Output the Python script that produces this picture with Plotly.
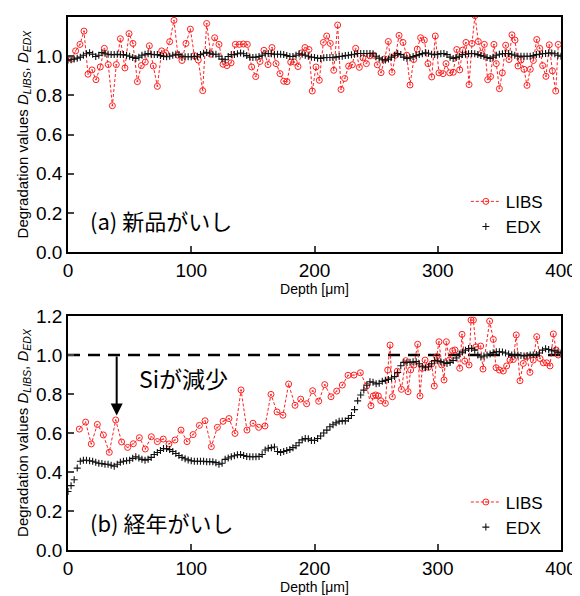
import plotly.graph_objects as go
from plotly.subplots import make_subplots

# ---------------- data ----------------
# (a) new insulator - LIBS
libs_a_depth = [2.9, 6.2, 9.7, 13.0, 16.2, 19.5, 22.7, 26.2, 29.5, 32.7, 36.0, 39.2, 42.5, 46.2, 49.5,
                52.7, 56.3, 59.5, 62.7, 66.0, 69.2, 72.5, 76.0, 79.2, 82.5, 86.0, 89.2, 92.5, 95.7,
                99.3, 102.5, 105.7, 109.3, 112.5, 115.8, 119.0, 122.5, 125.8, 129.0, 132.3, 135.8,
                139.0, 142.3, 145.5, 149.0, 152.3, 155.8, 159.0, 162.3, 165.5, 168.8, 172.0, 175.0,
                177.7, 180.7, 183.6, 186.6, 189.6, 192.3, 195.5, 198.2, 201.2, 203.9,
                207.2, 209.9, 212.8, 215.6, 218.8, 221.5, 224.5, 227.7, 230.7, 233.4, 236.4, 239.4,
                242.1, 245.0, 248.0, 251.0, 254.0, 256.9, 259.9, 262.9, 265.9, 268.6, 271.8, 274.8,
                277.5, 280.5, 283.4, 286.1, 289.1, 292.1, 295.1, 298.0, 301.0, 304.3, 306.7, 309.7,
                312.6, 315.4, 317.8, 320.2, 322.9, 325.4, 327.8, 330.2, 332.9, 335.4, 337.8, 340.5,
                342.9, 345.6, 347.5, 350.0, 352.4, 355.1, 357.8, 360.2, 362.7, 365.1, 367.5, 370.0,
                372.4, 375.1, 377.6, 380.3, 382.7, 385.1, 387.8, 390.5, 393.0, 395.7, 397.8]
libs_a = [0.985, 1.027, 1.06, 1.128, 0.908, 0.93, 0.88, 0.945, 1.04, 0.957, 0.747, 0.957, 1.089, 0.94,
          1.115, 1.065, 0.87, 0.952, 0.97, 1.053, 0.95, 0.846, 1.027, 1.017, 1.074, 1.183, 1.005,
          0.978, 1.065, 1.138, 1.003, 0.98, 0.824, 1.167, 1.01, 1.094, 1.06, 0.959, 0.952, 0.966,
          1.06, 1.06, 1.062, 1.06, 0.945, 0.896, 0.973, 1.03, 0.957, 1.044, 0.962, 0.911, 0.872,
          0.87, 0.97, 0.97, 0.947, 1.017, 1.044, 1.034, 0.822, 0.945, 0.877,
          1.07, 1.103, 1.065, 0.928, 1.159, 0.83, 0.886, 0.949, 0.956, 1.04, 0.943, 0.991, 0.962,
          1.002, 1.005, 0.956, 0.916, 0.986, 1.075, 0.918, 1.005, 1.106, 1.07, 1.005, 0.853,
          0.983, 1.036, 1.094, 1.082, 0.962, 0.894, 1.103, 0.915, 0.911, 0.962, 0.915, 0.918,
          1.034, 0.93, 1.031, 1.07, 0.855, 1.065, 1.207, 1.075, 1.014, 1.06, 0.88, 0.896, 1.06,
          0.962, 0.834, 0.915, 1.056, 0.983, 1.109, 1.082, 0.95, 0.98, 0.933, 0.851, 0.933,
          0.978, 1.085, 1.04, 0.952, 0.897, 1.058, 0.925, 0.822, 1.06]

# (a) new insulator - EDX (2.5 um grid, 0..400)
edx_a = [0.98, 0.982, 0.985, 0.99, 0.995, 1.005, 1.012, 1.018, 1.01, 0.998,
         1.005, 1.018, 1.015, 1.01, 1.008, 1.008, 1.01, 1.008, 1.008, 1.005,
         1.0, 0.993, 0.988, 0.995, 1.005, 1.01, 1.013, 1.01, 1.008, 1.008,
         1.003, 0.998, 0.997, 1.0, 1.005, 1.01, 1.008, 1.0, 0.997, 0.997,
         0.997, 0.998, 1.0, 1.008, 1.015, 1.019, 1.015, 1.01, 1.01, 1.0,
         0.985, 0.982, 0.998, 1.008, 1.008, 1.012, 1.016, 1.012, 1.003, 0.995,
         0.993, 0.995, 0.998, 1.005, 1.012, 1.014, 1.012, 1.01, 1.01, 1.01,
         1.008, 1.003, 0.998, 0.998, 1.005, 1.012, 1.01, 1.005, 1.0, 0.995,
         0.993, 0.99, 0.988, 0.992, 0.993, 0.993, 0.993, 0.995, 0.998, 1.0,
         1.003, 1.005, 1.007, 1.01, 1.014, 1.014, 1.014, 1.014, 1.014, 1.012,
         1.0, 0.99, 0.982, 0.98, 0.985, 0.995, 1.005, 1.014, 1.008, 0.995,
         0.988, 0.992, 0.998, 1.003, 1.008, 1.013, 1.017, 1.015, 1.01, 1.008,
         1.01, 1.013, 1.014, 1.008, 0.995, 0.988, 0.993, 1.0, 1.008, 1.01,
         1.012, 1.014, 1.012, 1.008, 1.003, 1.0, 0.993, 0.988, 0.995, 1.005,
         1.01, 1.012, 1.014, 1.014, 1.01, 1.005, 1.0, 1.0, 1.0, 1.0,
         1.0, 1.003, 1.008, 1.01, 1.012, 1.014, 1.016, 1.016, 1.012, 1.005,
         1.0]

# (b) aged insulator - LIBS
libs_b_depth = [9.2, 14.3, 18.9, 23.8, 28.7, 33.5, 38.7, 43.5, 48.4, 53.0, 57.9, 62.7, 67.6, 72.5,
                77.3, 81.9, 86.8, 91.7, 96.6, 101.5, 106.6, 111.2, 116.3, 121.2, 125.8, 130.6,
                135.5, 140.4, 145.2, 150.1, 154.7, 159.8, 164.7, 169.6, 174.4, 179.0, 184.2,
                188.8, 193.6, 198.5, 203.4, 208.3, 213.4, 218.0, 222.6, 227.2, 232.0, 237.2,
                242.3, 245.8, 247.7, 249.6, 251.8, 253.7, 257.5, 259.4, 261.3, 263.2, 267.2,
                270.5, 274.0, 275.9, 278.0, 280.7, 283.7, 285.6, 287.5, 289.7, 292.4, 295.1,
                297.2, 299.1, 301.0, 303.2, 305.1, 307.0, 309.4, 312.1, 314.0, 317.8, 319.7,
                321.9, 325.4, 327.0, 328.9, 331.0, 334.8, 336.7, 342.1, 345.1, 347.3, 350.0,
                353.2, 355.9, 358.6, 361.3, 363.7, 366.7, 369.4, 372.1, 374.8, 377.5, 380.3,
                383.0, 385.7, 388.4, 391.1, 393.8, 396.0, 397.8]
libs_b = [0.62, 0.656, 0.544, 0.644, 0.59, 0.501, 0.667, 0.554, 0.526, 0.545, 0.576, 0.518, 0.581,
          0.556, 0.569, 0.544, 0.564, 0.615, 0.556, 0.592, 0.639, 0.663, 0.53, 0.629, 0.66,
          0.674, 0.598, 0.821, 0.615, 0.65, 0.629, 0.636, 0.798, 0.708, 0.691, 0.851, 0.742,
          0.774, 0.75, 0.817, 0.763, 0.848, 0.786, 0.815, 0.846, 0.896, 0.897, 0.909, 0.841,
          0.74, 0.79, 0.795, 0.79, 0.766, 0.752, 0.923, 1.051, 0.786, 0.917, 0.824, 0.971,
          0.812, 0.923, 0.949, 1.055, 0.79, 0.932, 0.974, 0.937, 0.954, 0.841, 0.991, 1.068,
          0.949, 0.872, 1.068, 0.974, 1.022, 1.026, 0.932, 1.106, 0.969, 0.949, 1.179, 1.179,
          1.042, 1.046, 0.928, 1.174, 1.08, 0.935, 0.923, 0.918, 0.944, 0.974, 0.977, 1.103,
          0.868, 0.957, 0.991, 0.911, 0.974, 1.094, 0.982, 0.96, 0.96, 0.944, 1.108, 1.026, 1.0]

# (b) aged insulator - EDX (2.5 um grid, 0..400)
edx_b = [0.30, 0.33, 0.36, 0.42, 0.455, 0.46, 0.46, 0.458, 0.455, 0.45,
         0.445, 0.443, 0.44, 0.44, 0.435, 0.43, 0.44, 0.45, 0.455, 0.458,
         0.46, 0.47, 0.478, 0.472, 0.465, 0.46, 0.465, 0.475, 0.49, 0.5,
         0.51, 0.52, 0.52, 0.515, 0.505, 0.495, 0.485, 0.475, 0.468, 0.462,
         0.458, 0.455, 0.455, 0.455, 0.455, 0.453, 0.453, 0.452, 0.448, 0.44,
         0.445, 0.465, 0.472, 0.478, 0.483, 0.488, 0.49, 0.485, 0.48, 0.478,
         0.478, 0.478, 0.48, 0.49, 0.513, 0.522, 0.525, 0.528, 0.505, 0.5,
         0.505, 0.51, 0.515, 0.525, 0.535, 0.55, 0.565, 0.572, 0.57, 0.562,
         0.562, 0.572, 0.585, 0.6, 0.615, 0.632, 0.642, 0.652, 0.66, 0.662,
         0.662, 0.675, 0.69, 0.72, 0.765, 0.795, 0.82, 0.845, 0.863, 0.86,
         0.852, 0.855, 0.865, 0.87, 0.875, 0.882, 0.89, 0.91, 0.945, 0.962,
         0.962, 0.963, 0.965, 0.966, 0.955, 0.94, 0.935, 0.94, 0.955, 0.972,
         0.97, 0.966, 0.96, 0.957, 0.962, 0.972, 0.985, 1.005, 1.015, 1.025,
         1.033, 1.034, 1.025, 1.0, 0.99, 0.995, 1.0, 1.005, 1.012, 1.017,
         1.017, 1.015, 1.01, 1.005, 1.0, 1.0, 1.0, 0.998, 0.995, 0.998,
         1.0, 1.0, 1.002, 1.01, 1.025, 1.032, 1.028, 1.022, 1.022, 1.015,
         1.01]

edx_depth = [i * 2.5 for i in range(len(edx_a))]
edx_depth_b = [i * 2.5 for i in range(len(edx_b))]

x_ticks = [0, 100, 200, 300, 400]
y_ticks = [0.0, 0.2, 0.4, 0.6, 0.8, 1.0, 1.2]

panel_labels = ["(a) 新品がいし", "(b) 経年がいし"]
arrow_label = "Siが減少"
ref_level = 1.0
arrow_x = 39.5
arrow_tip = 0.69

# ---------------- figure ----------------
FONT = "Arial"
JP = "Noto Sans CJK JP"
RED = "#ff2020"

fig = make_subplots(rows=2, cols=1, vertical_spacing=0.12)

libs_line = dict(color=RED, width=1, dash="3px,2px")
libs_marker = dict(symbol="circle-open-dot", size=6, color=RED, line=dict(width=1, color=RED))
edx_marker = dict(symbol="cross-thin", size=5, color="#111", line=dict(width=1.1, color="#111"))

fig.add_trace(go.Scatter(x=libs_a_depth, y=libs_a, mode="lines+markers", name="LIBS",
                         line=libs_line, marker=libs_marker, legend="legend"), row=1, col=1)
fig.add_trace(go.Scatter(x=edx_depth, y=edx_a, mode="markers", name="EDX",
                         marker=edx_marker, legend="legend"), row=1, col=1)

fig.add_trace(go.Scatter(x=[0, 400], y=[ref_level, ref_level], mode="lines", showlegend=False,
                         line=dict(color="black", width=2.5, dash="12px,8px")), row=2, col=1)
fig.add_trace(go.Scatter(x=libs_b_depth, y=libs_b, mode="lines+markers", name="LIBS",
                         line=libs_line, marker=libs_marker, legend="legend2"), row=2, col=1)
fig.add_trace(go.Scatter(x=edx_depth_b, y=edx_b, mode="markers", name="EDX",
                         marker=edx_marker, legend="legend2"), row=2, col=1)

ytitle = "Degradation values <i>D</i><sub><i>LIBS</i></sub>, <i>D</i><sub><i>EDX</i></sub>"
for r in (1, 2):
    fig.update_xaxes(range=[0, 400], tickvals=x_ticks, ticks="inside", ticklen=6, tickwidth=1.5,
                     showline=True, linecolor="black", linewidth=1.5, mirror=True, showgrid=False,
                     zeroline=False, automargin=False,
                     tickfont=dict(size=19, family=FONT, color="black"),
                     title=dict(text="Depth [μm]", font=dict(size=14, family=FONT, color="black"), standoff=0),
                     row=r, col=1)
    fig.update_yaxes(range=[0, 1.2], tickvals=y_ticks, tickformat=".1f", ticks="inside", ticklen=6,
                     tickwidth=1.5, showline=True, linecolor="black", linewidth=1.5, mirror=True,
                     showgrid=False, zeroline=False, automargin=False,
                     tickfont=dict(size=19, family=FONT, color="black"),
                     title=dict(text=ytitle, font=dict(size=15, family=FONT, color="black"), standoff=4),
                     row=r, col=1)

# the page adds an 8 px body margin, so the figure is drawn 8 px smaller
fig.update_layout(
    width=572, height=588,
    margin=dict(l=60, r=19, t=9, b=46),
    plot_bgcolor="white", paper_bgcolor="white",
    legend=dict(x=0.807, y=0.687, xanchor="left", yanchor="top", bgcolor="rgba(0,0,0,0)",
                font=dict(size=17, family=FONT, color="black")),
    legend2=dict(x=0.807, y=0.123, xanchor="left", yanchor="top", bgcolor="rgba(0,0,0,0)",
                 font=dict(size=17, family=FONT, color="black")),
)
fig.update_layout(yaxis=dict(domain=[0.559, 1.0]), yaxis2=dict(domain=[0.0, 0.439]))

fig.add_annotation(x=16, y=0.163, xref="x", yref="y", text=panel_labels[0], showarrow=False,
                   xanchor="left", yanchor="middle", font=dict(size=22, family=JP, color="black"))
fig.add_annotation(x=16, y=0.144, xref="x2", yref="y2", text=panel_labels[1], showarrow=False,
                   xanchor="left", yanchor="middle", font=dict(size=22, family=JP, color="black"))
fig.add_annotation(x=56, y=0.882, xref="x2", yref="y2", text=arrow_label, showarrow=False,
                   xanchor="left", yanchor="middle", font=dict(size=23, family=JP, color="black"))
fig.add_annotation(x=arrow_x, y=arrow_tip, ax=arrow_x, ay=ref_level, xref="x2", yref="y2",
                   axref="x2", ayref="y2", text="", showarrow=True, arrowhead=2, arrowsize=1.2,
                   arrowwidth=2, arrowcolor="black")

fig.write_html("out.html")
